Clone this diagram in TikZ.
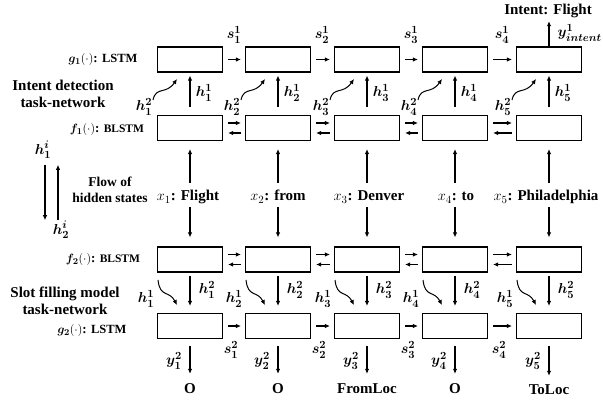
\documentclass[tikz,border=0pt]{standalone}
\usepackage{fontspec}
\setmainfont{Liberation Serif}
\usetikzlibrary{arrows.meta,positioning}

\tikzset{
  cell/.style={draw, line width=1.2pt, minimum width=65pt, minimum height=25pt, inner sep=0pt},
  flow/.style={-{Latex[length=5pt,width=4.5pt]}, line width=1.1pt},
  word/.style={font=\bfseries\fontsize{15}{17}\selectfont, inner sep=1pt, text height=11pt, text depth=3pt},
  var/.style={font=\boldmath\fontsize{15}{17}\selectfont, inner sep=1pt},
  layer/.style={font=\bfseries\fontsize{13}{15}\selectfont, inner sep=1pt},
  title/.style={font=\bfseries\fontsize{15}{17}\selectfont, align=center, inner sep=1pt},
}

\begin{document}
\begin{tikzpicture}[x=1pt, y=-1pt]
  \useasboundingbox (0,0) rectangle (603,406);

  % Cells of the four layers
  \foreach \i/\c in {1/190,2/278,3/367,4/455,5/549} {
    \node[cell] (g1-\i) at (\c,59.5) {};
    \node[cell] (f1-\i) at (\c,128) {};
    \node[cell] (f2-\i) at (\c,259.5) {};
    \node[cell] (g2-\i) at (\c,326) {};
  }

  % Links between neighbouring cells
  \foreach \i/\j/\m in {1/2/234,2/3/322,3/4/411,4/5/502} {
    \draw[flow, shorten <=5pt, shorten >=4pt] (g1-\i.east) -- (g1-\j.west);
    \draw[flow, shorten <=5pt, shorten >=4pt] (g2-\i.east) -- (g2-\j.west);
    \draw[flow, shorten <=5pt, shorten >=4pt] ([yshift=5pt]f1-\i.east) -- ([yshift=5pt]f1-\j.west);
    \draw[flow, shorten <=4pt, shorten >=5pt] ([yshift=-5pt]f1-\j.west) -- ([yshift=-5pt]f1-\i.east);
    \draw[flow, shorten <=5pt, shorten >=4pt] ([yshift=5pt]f2-\i.east) -- ([yshift=5pt]f2-\j.west);
    \draw[flow, shorten <=4pt, shorten >=5pt] ([yshift=-5pt]f2-\j.west) -- ([yshift=-5pt]f2-\i.east);
    \node[var] (s1-\i) at (\m,35) {$s^1_\i$};
    \node[var] (s2-\i) at (\m-3,350) {$s^2_\i$};
  }

  % Intent detection part
  \foreach \i/\c in {1/190,2/278,3/367,4/455,5/549} {
    \node[var] (hb-\i) at (\c-46,107) {$h^2_\i$};
    \node[var] (ha-\i) at (\c+14,93) {$h^1_\i$};
    \draw[flow, shorten <=8pt, shorten >=3pt] (f1-\i.north) -- (g1-\i.south);
    \draw[flow, line width=1pt] (\c-37,100) .. controls (\c-34,86) and (\c-24,95) .. (\c-13,79);
  }

  % Slot filling part
  \foreach \i/\c in {1/190,2/278,3/367,4/455,5/549} {
    \node[var] (hc-\i) at (\c-44,299) {$h^1_\i$};
    \node[var] (hd-\i) at (\c+17,290) {$h^2_\i$};
    \node[var] (y-\i) at (\c-16,361) {$y^2_\i$};
    \draw[flow, shorten <=3pt, shorten >=7pt] (f2-\i.south) -- (g2-\i.north);
    \draw[flow, line width=1pt] (\c-32,280) .. controls (\c-30,298) and (\c-21,290) .. (\c-13,305);
  }

  % Input words
  \foreach \i/\x/\w in {1/188/Flight,2/278/from,3/369/Denver,4/456/to,5/546/Philadelphia} {
    \node[word] (x-\i) at (\x,197) {$x_\i$: \w};
    \draw[flow, shorten <=6pt, shorten >=8pt] (x-\i.north -| f1-\i.south) -- (f1-\i.south);
    \draw[flow, shorten <=2pt, shorten >=9pt] (x-\i.south -| f2-\i.north) -- (f2-\i.north);
  }

  % Slot outputs
  \foreach \i/\w/\h in {1/O/389,2/O/389,3/FromLoc/389,4/O/389,5/ToLoc/391} {
    \node[word] (o-\i) at (g2-\i |- 0,\h) {\w};
    \draw[flow, shorten <=7pt, shorten >=7pt] (g2-\i.south) -- (o-\i.north);
  }

  % Intent output
  \node[word] (intent) at (548,11) {Intent: Flight};
  \draw[flow, shorten >=2pt] (g1-5.north) -- (g1-5.north |- intent.south);
  \node[var, anchor=east] (yint) at (603,33) {$y^1_{intent}$};

  % Layer names
  \node[title] (intent-net) at (63,94) {Intent detection\\task-network};
  \node[title] (slot-net) at (65,301) {Slot filling model\\task-network};
  \node[layer] (g1-name) at (103,60) {{\boldmath$g_1$}$(\cdot)$: {\fontsize{12.5}{14}\selectfont LSTM}};
  \node[layer] (f1-name) at (107,130) {{\boldmath$f_1$}$(\cdot)$: {\fontsize{11.5}{13}\selectfont BLSTM}};
  \node[layer] (f2-name) at (103,260) {{\boldmath$f_2$}$(\cdot)$: {\fontsize{11.5}{13}\selectfont BLSTM}};
  \node[layer] (g2-name) at (92,331) {{\boldmath$g_2$}$(\cdot)$: {\fontsize{12.5}{14}\selectfont LSTM}};

  % Flow of hidden states
  \node[title, font=\bfseries\fontsize{13.5}{16}\selectfont] (flow-txt) at (110,190) {Flow of\\hidden states};
  \node[var] (hi-1) at (43,150) {$h^i_1$};
  \node[var] (hi-2) at (61,230) {$h^i_2$};
  \draw[flow, shorten <=5pt] ([xshift=2pt]hi-1.south) -- ([xshift=2pt]hi-1.south |- hi-2.north);
  \draw[flow, shorten >=5pt] ([xshift=-3pt]hi-2.north) -- ([xshift=-3pt]hi-2.north |- hi-1.south);
\end{tikzpicture}
\end{document}
